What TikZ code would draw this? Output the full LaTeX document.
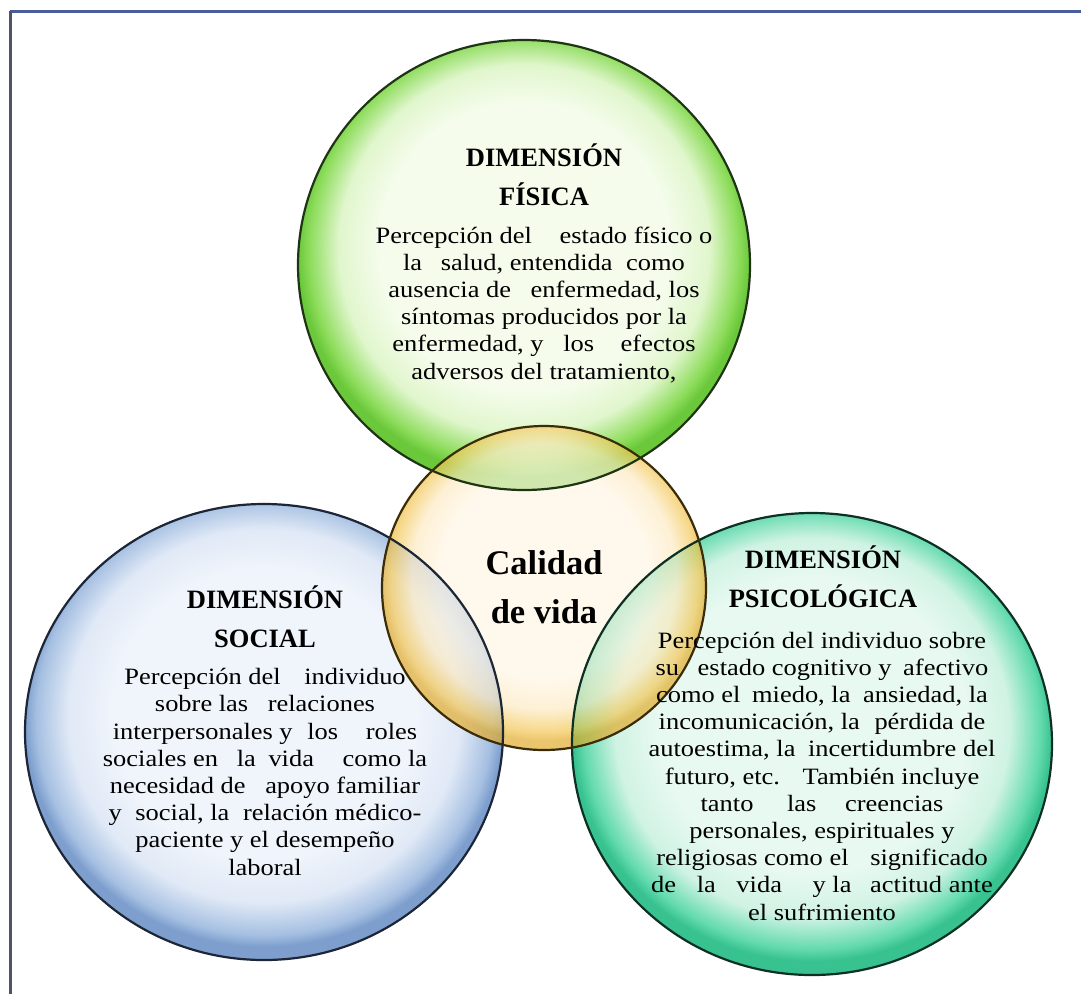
\documentclass[tikz,border=0pt]{standalone}
\usepackage{fontspec}
\setmainfont{Liberation Serif}
\newfontfamily\bodyf{Liberation Serif}[FakeStretch=1.13]
\frenchspacing
% colours
\definecolor{gC}{HTML}{F5FCEC}\definecolor{gM}{HTML}{E0F6CC}\definecolor{gE}{HTML}{8CDC5A}\definecolor{gR}{HTML}{6AC83A}\definecolor{gO}{HTML}{1E3414}
\definecolor{oC}{HTML}{FFF6E4}\definecolor{oM}{HTML}{FDEAC0}\definecolor{oE}{HTML}{F3C550}\definecolor{oR}{HTML}{E2AA28}\definecolor{oO}{HTML}{3A2C08}
\definecolor{bC}{HTML}{F0F4FB}\definecolor{bM}{HTML}{E0E9F6}\definecolor{bE}{HTML}{A6C0E2}\definecolor{bR}{HTML}{7E9FCE}\definecolor{bO}{HTML}{1C2636}
\definecolor{tC}{HTML}{E8F9F1}\definecolor{tM}{HTML}{D0F3E3}\definecolor{tE}{HTML}{62DAAE}\definecolor{tR}{HTML}{38C290}\definecolor{tO}{HTML}{0E3024}
\definecolor{frameblue}{HTML}{4A5E9E}\definecolor{framegray}{HTML}{4E5464}
\pgfdeclareradialshading{bgreen}{\pgfpoint{0bp}{3bp}}{color(0bp)=(gC); color(16bp)=(gC); color(20.5bp)=(gM); color(23.8bp)=(gE); color(25bp)=(gR); color(50bp)=(gR)}
\pgfdeclareradialshading{borange}{\pgfpoint{0bp}{3bp}}{color(0bp)=(oC); color(16bp)=(oC); color(20.5bp)=(oM); color(23.8bp)=(oE); color(25bp)=(oR); color(50bp)=(oR)}
\pgfdeclareradialshading{bblue}{\pgfpoint{0bp}{3bp}}{color(0bp)=(bC); color(16bp)=(bC); color(20.5bp)=(bM); color(23.8bp)=(bE); color(25bp)=(bR); color(50bp)=(bR)}
\pgfdeclareradialshading{bteal}{\pgfpoint{0bp}{3bp}}{color(0bp)=(tC); color(16bp)=(tC); color(20.5bp)=(tM); color(23.8bp)=(tE); color(25bp)=(tR); color(50bp)=(tR)}
\begin{document}
\begin{tikzpicture}[x=1pt,y=-1pt,
  outl/.style={line width=2.2pt},
  headS/.style={font=\fontsize{26.5}{38.5}\selectfont\bfseries, align=center, inner sep=0pt, anchor=base},
  bodyS/.style={font=\bodyf\fontsize{23.4}{27.2}\selectfont, align=center, inner sep=0pt, anchor=base},
  calS/.style={font=\fontsize{34.5}{49}\selectfont\bfseries, align=center, inner sep=0pt, anchor=base}]
\useasboundingbox (0,0) rectangle (1081,994);
\fill[white] (0,0) rectangle (1081,994);
% frame
\draw[line width=3pt, draw=frameblue] (10,11) -- (1081,11);
\draw[line width=3pt, draw=framegray] (10,11) -- (10,994);
% centres
\coordinate (cg) at (524,265);
\coordinate (cb) at (264,732);
\coordinate (ct) at (812,744);
\coordinate (co) at (544,588);
% side circles
\shade[shading=bgreen] (cg) ellipse [x radius=226pt, y radius=225pt];
\shade[shading=bblue] (cb) ellipse [x radius=239pt, y radius=228pt];
\shade[shading=bteal] (ct) ellipse [x radius=240pt, y radius=231pt];
% centre circle, translucent
\shade[shading=borange, fill opacity=0.68] (co) circle [radius=162pt];
% outlines
\draw[outl, draw=gO] (cg) ellipse [x radius=226pt, y radius=225pt];
\draw[outl, draw=bO] (cb) ellipse [x radius=239pt, y radius=228pt];
\draw[outl, draw=tO] (ct) ellipse [x radius=240pt, y radius=231pt];
\draw[outl, draw=oO] (co) circle [radius=162pt];
% texts (base anchor = baseline of the last line)
\node[headS] (gh) at (544,205) {DIMENSIÓN\\FÍSICA};
\node[bodyS] (gb) at (544,379) {Percepción del\hspace{21pt} estado físico o\\
la\hspace{12pt} salud, entendida\hspace{7pt} como\\
ausencia de\hspace{13pt} enfermedad, los\\
síntomas producidos por la\\
enfermedad, y\hspace{13pt} los\hspace{20pt} efectos\\
adversos del tratamiento,};
\node[headS] (sh) at (265,647) {DIMENSIÓN\\SOCIAL};
\node[bodyS] (sb) at (265,875) {Percepción del\hspace{17pt} individuo\\
sobre las\hspace{13pt} relaciones\\
interpersonales y\hspace{8pt} los\hspace{21pt} roles\\
sociales en\hspace{12pt} la\hspace{6pt} vida\hspace{22pt} como la\\
necesidad de\hspace{13pt} apoyo familiar\\
y\hspace{7pt} social, la\hspace{7pt} relación médico-\\
paciente y el desempeño\\
laboral};
\node[headS] (ph) at (823,607) {DIMENSIÓN\\PSICOLÓGICA};
\node[bodyS] (pb) at (822,920) {Percepción del individuo sobre\\
su\hspace{12pt} estado cognitivo y\hspace{5pt} afectivo\\
como el\hspace{5pt} miedo, la\hspace{6pt} ansiedad, la\\
incomunicación, la\hspace{8pt} pérdida de\\
autoestima, la\hspace{6pt} incertidumbre del\\
futuro, etc.\hspace{16pt} También incluye\\
tanto\hspace{27pt} las\hspace{22pt} creencias\\
personales, espirituales y\\
religiosas como el\hspace{15pt} significado\\
de\hspace{14pt} la\hspace{14pt} vida\hspace{24pt} y la\hspace{12pt} actitud ante\\
el sufrimiento};
\node[calS] (cv) at (544,623) {Calidad\\de vida};
\end{tikzpicture}
\end{document}
